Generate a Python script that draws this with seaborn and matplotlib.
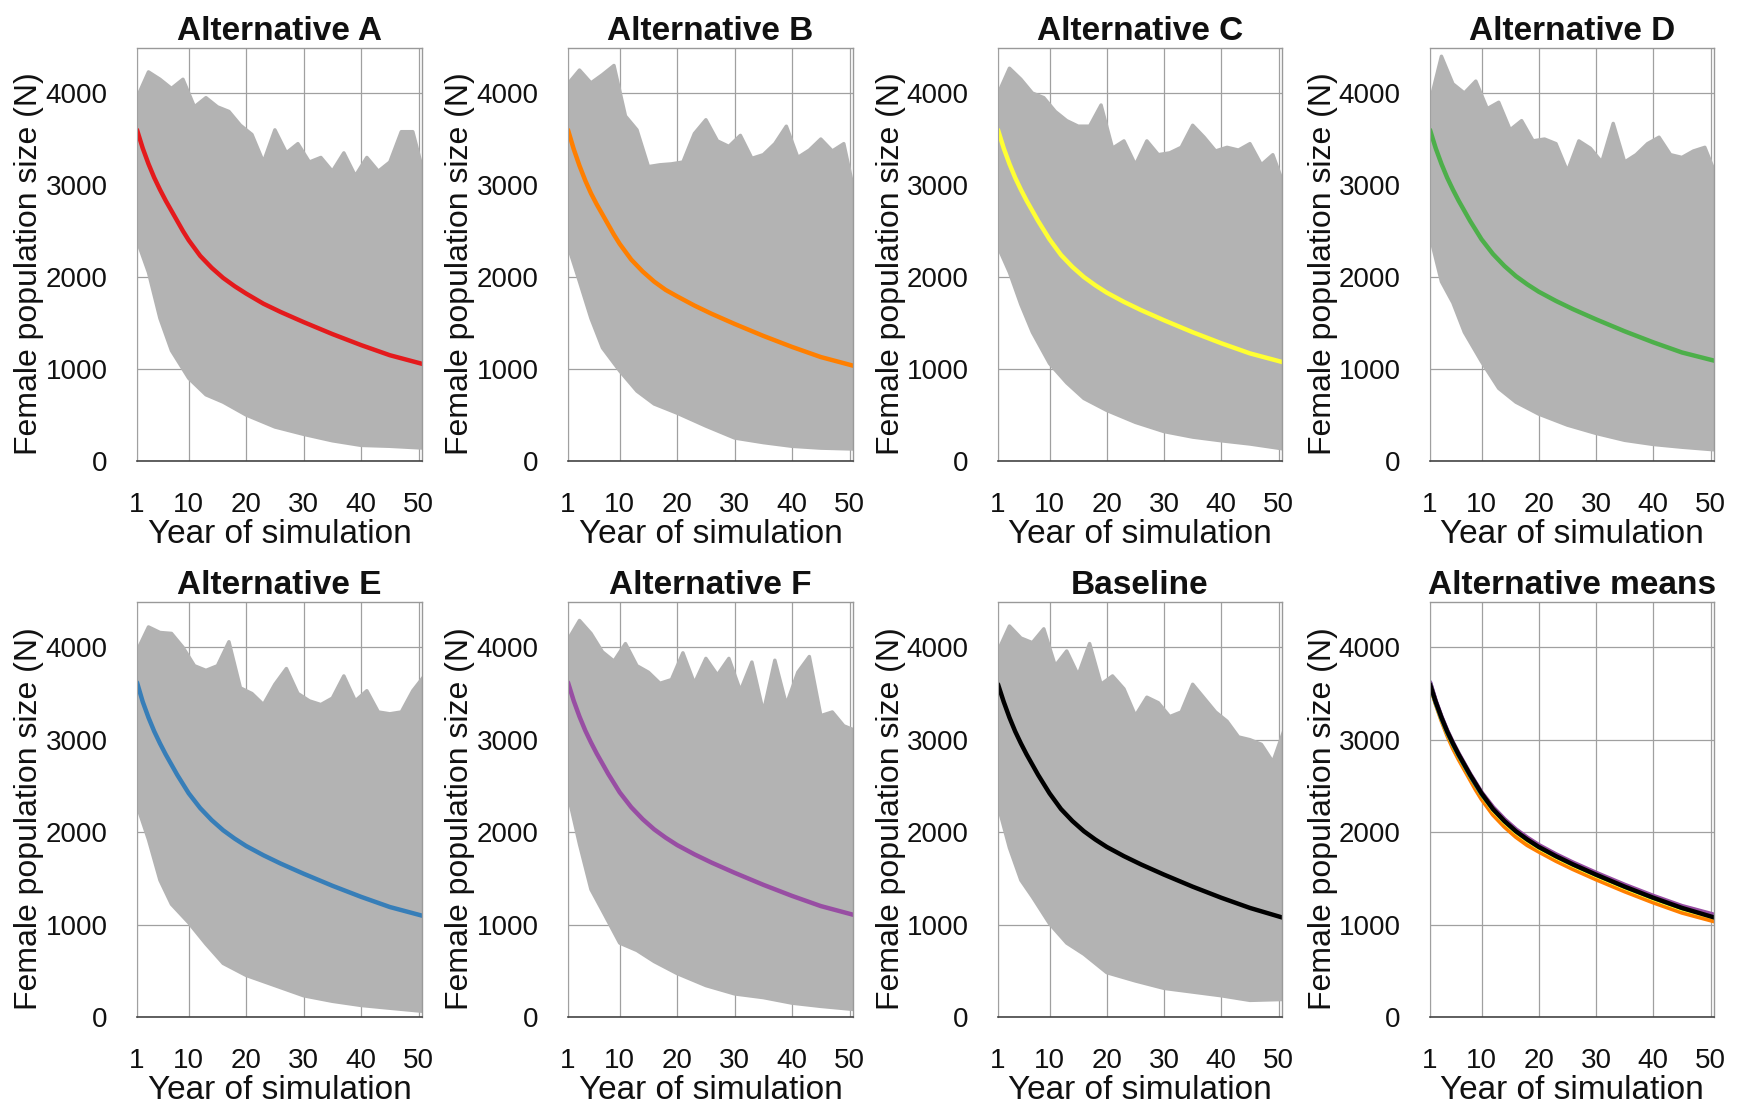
import matplotlib
matplotlib.use("Agg")
import matplotlib.pyplot as plt
import seaborn as sns

sns.set_style("white")
plt.rcParams['font.family'] = ['Liberation Sans', 'DejaVu Sans']
plt.rcParams['text.color'] = '#111111'
plt.rcParams['axes.labelcolor'] = '#111111'
plt.rcParams['xtick.color'] = '#111111'
plt.rcParams['ytick.color'] = '#111111'

years_up = list(range(1, 52, 2))
years_low = [1, 3, 5, 7, 10, 13, 16, 20, 25, 30, 35, 40, 45, 51]
years_mean = [1, 2, 3, 4, 5, 6, 7, 8, 9, 10, 12, 14, 16, 18, 20, 23, 26, 30, 35, 40, 45, 51]

panels = ['Alternative A', 'Alternative B', 'Alternative C', 'Alternative D',
          'Alternative E', 'Alternative F', 'Baseline']
colors = ['#e41a1c', '#ff7f00', '#ffff33', '#4daf4a', '#377eb8', '#984ea3', '#000000']

# upper edge of the grey bundle of simulations
upper_A = [3950, 4230, 4150, 4050, 4150, 3850, 3950, 3850, 3800, 3650, 3550, 3250, 3600,
           3350, 3450, 3250, 3300, 3150, 3350, 3100, 3300, 3150, 3250, 3580, 3580, 3100]
upper_B = [4100, 4250, 4110, 4200, 4300, 3750, 3600, 3200, 3220, 3230, 3250, 3560, 3710,
           3480, 3420, 3540, 3290, 3330, 3450, 3640, 3300, 3380, 3500, 3370, 3450, 2870]
upper_C = [3990, 4270, 4150, 4000, 3950, 3800, 3700, 3640, 3640, 3870, 3400, 3480, 3220,
           3480, 3330, 3350, 3410, 3650, 3520, 3370, 3410, 3380, 3450, 3220, 3330, 2990]
upper_D = [3900, 4400, 4100, 4000, 4130, 3830, 3900, 3600, 3700, 3480, 3500, 3450, 3150,
           3480, 3400, 3250, 3670, 3250, 3330, 3450, 3520, 3330, 3300, 3370, 3410, 3100]
upper_E = [3960, 4220, 4160, 4150, 4000, 3800, 3750, 3800, 4060, 3560, 3500, 3380, 3600,
           3770, 3500, 3420, 3380, 3450, 3690, 3420, 3530, 3300, 3280, 3300, 3530, 3690]
upper_F = [4080, 4290, 4150, 3950, 3850, 4040, 3800, 3730, 3610, 3650, 3940, 3610, 3880,
           3700, 3880, 3530, 3840, 3300, 3860, 3380, 3730, 3900, 3260, 3300, 3150, 3100]
upper_base = [3960, 4230, 4100, 4050, 4200, 3800, 3960, 3700, 4040, 3600, 3690, 3550, 3260,
              3460, 3400, 3250, 3300, 3600, 3450, 3300, 3200, 3030, 3000, 2950, 2760, 3110]

# lower edge of the grey bundle
lower_A = [2400, 2050, 1550, 1200, 900, 720, 640, 500, 370, 290, 220, 170, 160, 140]
lower_B = [2340, 1950, 1550, 1230, 980, 760, 620, 520, 380, 250, 200, 160, 140, 130]
lower_C = [2330, 2050, 1700, 1400, 1060, 850, 680, 550, 420, 320, 260, 220, 185, 130]
lower_D = [2450, 1950, 1720, 1400, 1080, 790, 640, 510, 390, 300, 225, 180, 150, 120]
lower_E = [2290, 1920, 1480, 1220, 1020, 790, 580, 450, 340, 230, 170, 125, 95, 60]
lower_F = [2410, 1870, 1380, 1150, 800, 720, 600, 470, 340, 250, 210, 150, 115, 80]
lower_base = [2290, 1830, 1480, 1300, 1010, 800, 680, 480, 390, 310, 270, 230, 180, 190]

# mean trajectory of each alternative
mean_A = [3600, 3400, 3230, 3080, 2950, 2830, 2720, 2610, 2500, 2400, 2230, 2100, 1990, 1900,
          1820, 1710, 1620, 1510, 1380, 1260, 1150, 1050]
mean_B = [3600, 3390, 3210, 3050, 2910, 2790, 2680, 2570, 2460, 2360, 2190, 2060, 1950, 1860,
          1790, 1690, 1600, 1490, 1360, 1240, 1130, 1030]
mean_C = [3600, 3400, 3230, 3080, 2950, 2830, 2720, 2610, 2510, 2410, 2240, 2110, 2000, 1910,
          1830, 1730, 1640, 1530, 1400, 1280, 1170, 1070]
mean_D = [3600, 3400, 3230, 3080, 2950, 2830, 2720, 2610, 2510, 2410, 2250, 2120, 2010, 1920,
          1840, 1740, 1650, 1540, 1410, 1290, 1180, 1085]
mean_E = [3620, 3410, 3240, 3090, 2960, 2840, 2730, 2620, 2520, 2420, 2260, 2130, 2020, 1930,
          1850, 1750, 1660, 1550, 1420, 1300, 1190, 1090]
mean_F = [3620, 3420, 3250, 3100, 2970, 2850, 2740, 2630, 2530, 2430, 2270, 2140, 2030, 1940,
          1860, 1760, 1670, 1560, 1430, 1310, 1200, 1100]
mean_base = [3600, 3410, 3240, 3090, 2960, 2840, 2730, 2620, 2520, 2420, 2250, 2120, 2010, 1920,
             1840, 1740, 1650, 1540, 1410, 1290, 1180, 1070]

uppers = [upper_A, upper_B, upper_C, upper_D, upper_E, upper_F, upper_base]
lowers = [lower_A, lower_B, lower_C, lower_D, lower_E, lower_F, lower_base]
means = [mean_A, mean_B, mean_C, mean_D, mean_E, mean_F, mean_base]

W, H = 1743, 1108
grey = '#b3b3b3'
# panel boxes in pixels: left, top, right, bottom
col_x = [(137, 422), (568, 853), (998, 1282), (1430, 1714)]
row_y = [(48, 461), (602, 1017)]

fig = plt.figure(figsize=(W / 100, H / 100), dpi=100)


def style_axes(ax, title):
    ax.set_xlim(1, 50.6)
    ax.set_ylim(0, 4490)
    ax.set_xticks([1, 10, 20, 30, 40, 50])
    ax.set_yticks([0, 1000, 2000, 3000, 4000])
    ax.set_axisbelow(True)
    ax.grid(True, color='#a0a0a0', lw=0.9)
    ax.tick_params(axis='y', length=19, width=1, color='#444444', pad=2, labelsize=20)
    ax.tick_params(axis='x', length=16, width=1, color='#444444', pad=6, labelsize=20)
    for s in ['top', 'right']:
        ax.spines[s].set_color('#999999')
        ax.spines[s].set_linewidth(1)
    ax.spines['left'].set_color('#a0a0a0')
    ax.spines['bottom'].set_color('#444444')
    ax.spines['bottom'].set_linewidth(1.2)
    ax.set_title(title, fontweight='bold', fontsize=24, pad=6)
    ax.set_xlabel('Year of simulation', fontsize=24, labelpad=1)
    ax.set_ylabel('Female population size (N)', fontsize=23)
    ax.yaxis.set_label_coords(-0.325, 0.477)


axes = []
for r in range(2):
    for c in range(4):
        l, rr = col_x[c]
        t, b = row_y[r]
        axes.append(fig.add_axes([l / W, 1 - b / H, (rr - l) / W, (b - t) / H]))

for i, name in enumerate(panels):
    ax = axes[i]
    xs = years_up + years_low[::-1]
    ys = uppers[i] + lowers[i][::-1]
    ax.fill(xs, ys, color=grey, lw=0)
    sns.lineplot(x=years_up, y=uppers[i], color=grey, lw=2.5, ax=ax)
    sns.lineplot(x=years_low, y=lowers[i], color=grey, lw=2.5, ax=ax)
    sns.lineplot(x=years_mean, y=means[i], color=colors[i], lw=3.2, ax=ax)
    style_axes(ax, name)

ax = axes[7]
for i in range(7):
    sns.lineplot(x=years_mean, y=means[i], color=colors[i], lw=3.2, ax=ax)
style_axes(ax, 'Alternative means')

fig.savefig('out.png', dpi=100)
